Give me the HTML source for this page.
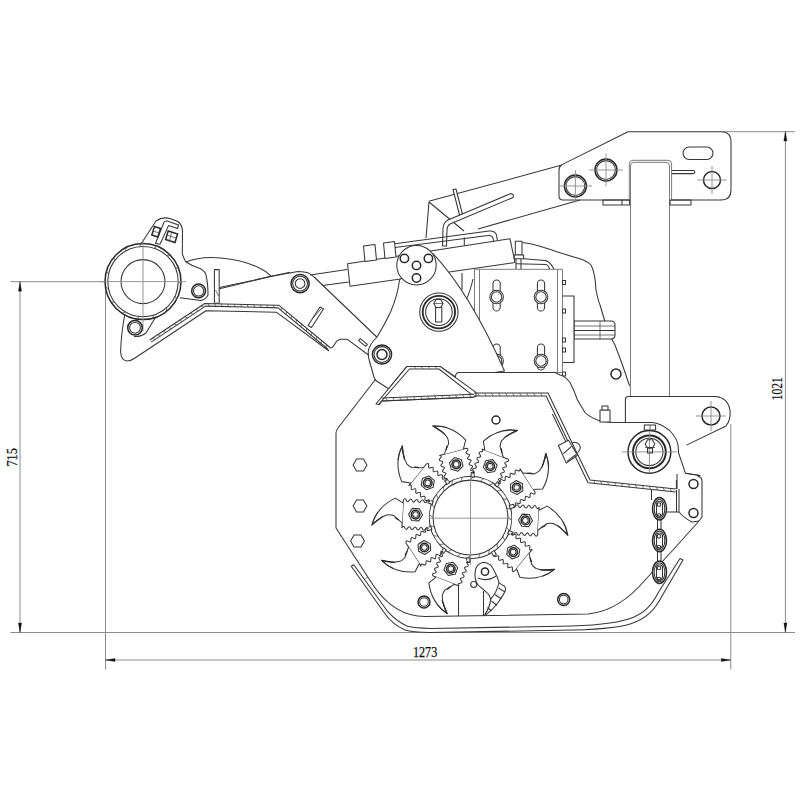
<!DOCTYPE html>
<html><head><meta charset="utf-8"><style>
html,body{margin:0;padding:0;background:#fff;width:800px;height:800px;overflow:hidden}
svg{display:block}
.m{fill:none;stroke:#363636;stroke-width:1.05;stroke-linejoin:round}
.mf{fill:#fff;stroke:#363636;stroke-width:1.05;stroke-linejoin:round}
.ma{fill:none;stroke:#7c7c7c;stroke-width:1}
.maf{fill:#fff;stroke:#7c7c7c;stroke-width:1}
.k{fill:none;stroke:#282828;stroke-width:1.5}
.wf{fill:#fff;stroke:none}
.kf{fill:#fff;stroke:#282828;stroke-width:1.5}
.h{fill:none;stroke:#454545;stroke-width:0.75}
.c{fill:none;stroke:#8a8a8a;stroke-width:0.9}
.d{fill:none;stroke:#8c8c8c;stroke-width:1}
.ar{fill:#111;stroke:#111;stroke-width:0.3}
.t{font-family:"Liberation Serif",serif;font-size:14px;fill:#111;stroke:#111;stroke-width:0.25}
</style></head><body>
<svg width="800" height="800" viewBox="0 0 800 800">
<defs><g id="blk"><path d="M68,-13.8 L68,13.8 Q66.53,16.7 65.06,13.8 Q63.58,10.9 62.11,13.8 Q60.64,16.7 59.17,13.8 Q57.69,10.9 56.22,13.8 Q54.75,16.7 53.28,13.8 Q51.81,10.9 50.33,13.8 Q48.86,16.7 47.39,13.8 Q45.92,10.9 44.44,13.8 Q42.97,16.7 41.5,13.8 L41.5,-13.8 Q42.97,-10.9 44.44,-13.8 Q45.92,-16.7 47.39,-13.8 Q48.86,-10.9 50.33,-13.8 Q51.81,-16.7 53.28,-13.8 Q54.75,-10.9 56.22,-13.8 Q57.69,-16.7 59.17,-13.8 Q60.64,-10.9 62.11,-13.8 Q63.58,-16.7 65.06,-13.8 Q66.53,-10.9 68,-13.8 Z" class="wf"/><path d="M41.5,13.8 Q42.97,16.7 44.44,13.8 Q45.92,10.9 47.39,13.8 Q48.86,16.7 50.33,13.8 Q51.81,10.9 53.28,13.8 Q54.75,16.7 56.22,13.8 Q57.69,10.9 59.17,13.8 Q60.64,16.7 62.11,13.8 Q63.58,10.9 65.06,13.8 Q66.53,16.7 68,13.8 L68,-13.8 Q66.53,-10.9 65.06,-13.8 Q63.58,-16.7 62.11,-13.8 Q60.64,-10.9 59.17,-13.8 Q57.69,-16.7 56.22,-13.8 Q54.75,-10.9 53.28,-13.8 Q51.81,-16.7 50.33,-13.8 Q48.86,-10.9 47.39,-13.8 Q45.92,-16.7 44.44,-13.8 Q42.97,-10.9 41.5,-13.8" class="m"/></g>
<g id="bl"><path d="M68,-9 L77,-2 Q80,-1.2 83,-1.6 Q87,-3 90.3,-5.7 L98,-12.6 C96,-4 90,8 76,15.4 L68,10.8" class="mf"/><path d="M98.2,-12.9 Q93,-7 87.5,-3 M98.2,-12.9 Q96.5,-5 92.8,0.8 M97.5,-11 L89,-4.6" class="k" style="stroke-width:0.8"/><path d="M71.5,-6.2 L75.5,-4" class="k" style="stroke-width:1.2"/></g></defs>
<rect width="800" height="800" fill="#fff"/>
<line x1="10.5" y1="281.7" x2="186" y2="281.7" class="d"/>
<line x1="10.5" y1="632.5" x2="795" y2="632.5" class="d"/>
<line x1="722" y1="131.7" x2="795" y2="131.7" class="d"/>
<line x1="20" y1="281.7" x2="20" y2="632.5" class="d"/>
<polygon points="20,281.7 21.6,291.2 18.4,291.2" class="ar"/>
<polygon points="20,632.5 18.4,623 21.6,623" class="ar"/>
<line x1="785.4" y1="131.7" x2="785.4" y2="632.5" class="d"/>
<polygon points="785.4,131.5 787,141 783.8,141" class="ar"/>
<polygon points="785.4,632.5 783.8,623 787,623" class="ar"/>
<line x1="105.5" y1="284" x2="105.5" y2="669.5" class="d"/>
<line x1="730.8" y1="424" x2="730.8" y2="669.5" class="d"/>
<line x1="105.5" y1="660" x2="730.8" y2="660" class="d"/>
<polygon points="105.5,660 115,658.4 115,661.6" class="ar"/>
<polygon points="730.8,660 721.3,661.6 721.3,658.4" class="ar"/>
<text x="413" y="657" class="t" textLength="24.2" lengthAdjust="spacingAndGlyphs">1273</text>
<text transform="translate(782.3,400.2) rotate(-90)" class="t" textLength="22.9" lengthAdjust="spacingAndGlyphs">1021</text>
<text transform="translate(16.9,466.6) rotate(-90)" class="t" textLength="18.4" lengthAdjust="spacingAndGlyphs">715</text>
<path d="M428.8,201.3 L560,165.6 L628,131.7 L721,131.7 Q731,131.7 731,141.7 L731,190 Q731,200 721,200 L563,200 Q559,200 559,196 L559,170 Q559,166.5 562,164.8" class="mf"/>
<line x1="478" y1="229" x2="580" y2="200" class="m"/>
<circle cx="575.4" cy="186" r="11" class="k"/>
<circle cx="575.4" cy="186" r="9.4" class="m"/>
<circle cx="606" cy="170" r="11" class="k"/>
<circle cx="606" cy="170" r="9.4" class="m"/>
<line x1="558.9" y1="186" x2="591.9" y2="186" class="c"/>
<line x1="575.4" y1="170" x2="575.4" y2="202" class="c"/>
<line x1="589" y1="170" x2="623" y2="170" class="c"/>
<line x1="606" y1="153.5" x2="606" y2="186.5" class="c"/>
<circle cx="712" cy="180" r="8.5" class="k"/>
<line x1="697.5" y1="180" x2="726.5" y2="180" class="c"/>
<line x1="712" y1="166" x2="712" y2="194" class="c"/>
<rect x="683" y="147" width="30" height="12.5" rx="6.2" class="m"/>
<path d="M629.3,200 L629.3,164 Q629.3,160.3 633,160.3 L668,160.3 Q671.6,160.3 671.6,164 L671.6,200" class="maf"/>
<path d="M630.5,397 L630.5,166 Q630.5,162.3 634,162.3 L666,162.3 Q669.5,162.3 669.5,166 L669.5,397" class="maf"/>
<polygon points="603,200 629.6,200 629.6,205 603,205" class="m"/>
<line x1="622" y1="200" x2="622" y2="205" class="m"/>
<polygon points="670,200 691,200 691,205 670,205" class="m"/>
<path d="M671.6,170.5 L693,170.5 Q694.8,170.5 694.8,172 Q694.8,173.6 693,173.6 L671.6,173.6" class="m"/>
<path d="M429,202 L426,238" class="m"/>
<line x1="429" y1="202" x2="464" y2="231" class="m"/>
<line x1="464.3" y1="237.5" x2="464.3" y2="245.4" class="m"/>
<path d="M522.6,242.4 Q532,243.5 540.6,246.4 Q550,249 557.5,252 Q570,256 580,258.75 Q587,261 591,265 Q595,272 596,290 Q598,300 600,305 L607.5,330 Q612,340 615,345 L622.5,365 L629.6,386 L629.6,400 L520,400 Z" class="wf"/>
<path d="M522.6,242.4 Q532,243.5 540.6,246.4 Q550,249 557.5,252 Q570,256 580,258.75 Q587,261 591,265 Q595,272 596,290 Q598,300 600,305 L607.5,330 Q612,340 615,345 L622.5,365 L629.6,386" class="m"/>
<path d="M574,321 L611,321 Q615,321 615,325 L615,335 Q615,339 611,339 L574,339 Z" class="mf"/>
<line x1="574" y1="326" x2="615" y2="326" class="h"/>
<line x1="574" y1="330.5" x2="615" y2="330.5" class="m"/>
<line x1="574" y1="335" x2="615" y2="335" class="h"/>
<line x1="600" y1="321" x2="600" y2="339" class="h"/>
<polygon points="562.5,296 574,296 574,362.5 562.5,362.5" class="mf"/>
<circle cx="616" cy="374" r="5" class="k"/>
<polygon points="474.5,269.3 562.5,269.3 562.5,372.5 474.5,372.5" class="maf"/>
<line x1="479.5" y1="269.3" x2="479.5" y2="372.5" class="ma"/>
<line x1="557.5" y1="269.3" x2="557.5" y2="372.5" class="ma"/>
<polygon points="562.5,280.5 565.5,280.5 565.5,284.5 562.5,284.5" class="m"/>
<polygon points="562.5,309 565.5,309 565.5,313 562.5,313" class="m"/>
<polygon points="562.5,338 565.5,338 565.5,342 562.5,342" class="m"/>
<polygon points="562.5,348 565.5,348 565.5,352 562.5,352" class="m"/>
<polygon points="562.5,372 565.5,372 565.5,376 562.5,376" class="m"/>
<rect x="493" y="280" width="7.2" height="31" rx="3.6" class="m"/>
<rect x="493" y="344" width="7.2" height="26" rx="3.6" class="m"/>
<rect x="537.4" y="280" width="7.2" height="31" rx="3.6" class="m"/>
<rect x="537.4" y="344" width="7.2" height="26" rx="3.6" class="m"/>
<circle cx="496.6" cy="297" r="6.8" class="mf"/>
<circle cx="496.6" cy="297" r="5.2" class="m"/>
<circle cx="541" cy="297" r="6.8" class="mf"/>
<circle cx="541" cy="297" r="5.2" class="m"/>
<circle cx="541" cy="361" r="6.8" class="mf"/>
<circle cx="541" cy="361" r="5.2" class="m"/>
<circle cx="496.6" cy="361" r="6.8" class="mf"/>
<circle cx="496.6" cy="361" r="5.2" class="m"/>
<line x1="462" y1="273" x2="462" y2="290" class="m"/>
<path d="M473,279 Q470,292 466,300" class="m"/>
<polygon points="453,189.5 456,189 462.5,214.5 459.5,215" class="mf"/>
<path d="M511,193.5 Q514.5,194.5 513,197.5 L450,224 Q447,226 447,230 L446.5,246 L442.5,246 L443,228 Q443.5,222.5 448,220 Z" class="mf"/>
<path d="M395,243.8 L489,231 Q495,230.5 496.5,235 L497.5,241" class="m"/>
<path d="M395,247.6 L488,235.5 Q492,235 493,238 L493.5,241" class="m"/>
<polygon points="347.5,263.8 510,238.8 515,262.5 350,286.3" class="mf"/>
<line x1="310" y1="274.9" x2="347.3" y2="269.6" class="m"/>
<line x1="322.5" y1="285.4" x2="348.7" y2="281.9" class="m"/>
<polygon points="363.5,246 375,244.5 376.5,260 365,261.5" class="mf"/>
<polygon points="383.5,243 394.5,241.5 396,257 385,258.5" class="mf"/>
<polygon points="515.3,241.3 522,241.3 522,255 515.3,255" class="mf"/>
<polygon points="514.2,255 523.7,255 523.7,258.8 514.2,258.8" class="mf"/>
<line x1="516" y1="258.8" x2="516" y2="269" class="m"/>
<line x1="521" y1="258.8" x2="521" y2="269" class="m"/>
<path d="M523.7,258.8 L545,260.4 Q549,261 551,264.4 L554,269" class="m"/>
<path d="M516,263.8 L546.2,264.4 Q548.5,265.5 549.6,269" class="m"/>
<path d="M399.5,279.8 Q398,294 391,311 Q386,322 377,337 Q370,344 368.5,350 Q367.5,356 370,363 L374,377 Q375,380 377,382 L386,389 L504.5,371 Q470,293 433,253.5 Z" class="mf"/>
<circle cx="416.5" cy="265.3" r="19.7" class="mf"/>
<circle cx="404.4" cy="258.4" r="4.2" class="k"/>
<circle cx="428.4" cy="258.4" r="4.2" class="k"/>
<circle cx="416.5" cy="265.4" r="4.2" class="k"/>
<circle cx="416.5" cy="278" r="4.2" class="k"/>
<circle cx="438.9" cy="312.1" r="19.2" class="m"/>
<circle cx="438.9" cy="312.1" r="16.2" class="k" style="stroke-width:1.8"/>
<circle cx="438.9" cy="312.1" r="13.3" class="m"/>
<polygon points="435.6,307 441.8,307 441.8,322 435.6,322" class="m"/>
<polygon points="443,303.5 440.7,307.48 436.1,307.48 433.8,303.5 436.1,299.52 440.7,299.52" class="mf"/>
<line x1="433.8" y1="303.5" x2="443" y2="303.5" class="h"/>
<path d="M218.5,289 L270,276.6 L298,271.4 Q305,271.5 308.5,273.1 Q312,275 314.6,277.5 L376.75,337" class="m"/>
<circle cx="300.1" cy="283.6" r="9.1" class="k"/>
<circle cx="300.1" cy="283.6" r="7.4" class="m"/>
<circle cx="300.1" cy="283.6" r="4.8" class="m"/>
<polyline points="149.7,340 204.75,303.5 279,305.3 330,347.5" class="m"/>
<polyline points="151.14,342.17 205.5,306.12 278.04,307.88 328.34,349.5" class="m"/>
<line x1="152.41" y1="338.2" x2="155.15" y2="339.51" class="h"/>
<line x1="157.83" y1="334.61" x2="160.56" y2="335.92" class="h"/>
<line x1="163.24" y1="331.02" x2="165.98" y2="332.33" class="h"/>
<line x1="168.66" y1="327.43" x2="171.4" y2="328.73" class="h"/>
<line x1="174.08" y1="323.84" x2="176.82" y2="325.14" class="h"/>
<line x1="179.5" y1="320.24" x2="182.23" y2="321.55" class="h"/>
<line x1="184.91" y1="316.65" x2="187.65" y2="317.96" class="h"/>
<line x1="190.33" y1="313.06" x2="193.07" y2="314.37" class="h"/>
<line x1="195.75" y1="309.47" x2="198.48" y2="310.77" class="h"/>
<line x1="201.17" y1="305.88" x2="203.9" y2="307.18" class="h"/>
<line x1="208" y1="303.58" x2="209.5" y2="306.22" class="h"/>
<line x1="214.5" y1="303.74" x2="215.99" y2="306.37" class="h"/>
<line x1="221" y1="303.89" x2="222.49" y2="306.53" class="h"/>
<line x1="227.49" y1="304.05" x2="228.99" y2="306.69" class="h"/>
<line x1="233.99" y1="304.21" x2="235.49" y2="306.85" class="h"/>
<line x1="240.49" y1="304.37" x2="241.99" y2="307" class="h"/>
<line x1="246.99" y1="304.52" x2="248.48" y2="307.16" class="h"/>
<line x1="253.49" y1="304.68" x2="254.98" y2="307.32" class="h"/>
<line x1="259.98" y1="304.84" x2="261.48" y2="307.48" class="h"/>
<line x1="266.48" y1="305" x2="267.98" y2="307.63" class="h"/>
<line x1="272.98" y1="305.15" x2="274.48" y2="307.79" class="h"/>
<line x1="281.5" y1="307.37" x2="281.05" y2="310.37" class="h"/>
<line x1="286.51" y1="311.52" x2="286.06" y2="314.51" class="h"/>
<line x1="291.52" y1="315.66" x2="291.06" y2="318.66" class="h"/>
<line x1="296.53" y1="319.8" x2="296.07" y2="322.8" class="h"/>
<line x1="301.54" y1="323.95" x2="301.08" y2="326.94" class="h"/>
<line x1="306.54" y1="328.09" x2="306.09" y2="331.09" class="h"/>
<line x1="311.55" y1="332.23" x2="311.1" y2="335.23" class="h"/>
<line x1="316.56" y1="336.38" x2="316.1" y2="339.38" class="h"/>
<line x1="321.57" y1="340.52" x2="321.11" y2="343.52" class="h"/>
<line x1="326.58" y1="344.67" x2="326.12" y2="347.66" class="h"/>
<path d="M330,347.5 Q332,349 334.75,344 Q337,339.5 341,339.2 L347,339.2 L368.5,355" class="m"/>
<path d="M320,307 L323.5,309 L311.5,327.5 L308,325.5 Z" class="m"/>
<line x1="321" y1="309" x2="313" y2="318" class="h"/>
<polygon points="358.6,340.7 360.3,338.7 367.4,344.3 365.7,346.3" class="m"/>
<circle cx="382" cy="354.5" r="9.6" class="kf"/>
<circle cx="382" cy="354.5" r="7.9" class="m"/>
<circle cx="382" cy="354.5" r="5" class="k"/>
<path d="M141,244 L156,221 Q162,216.5 170,218.5 L178,221.5 Q182.5,225 182.5,232 L182.3,254 Q184,259 186,262 Q192,266 200,268.5 Q205,271 206,275 Q208,283 208,295 Q206,299.5 200.6,300.5 L180,297.8" class="mf"/>
<path d="M186,262 Q200,256 221,257.9 Q243,260 258.4,267.5 Q266,271 270.8,275.8" class="m"/>
<line x1="217.1" y1="288.1" x2="290" y2="272.3" class="m"/>
<path d="M125,313 Q121,335 120.6,352 Q121,360 127,361 Q131,361 135,358 L206,310.8 L276.3,312.2 L329,351" class="m"/>
<path d="M156,316.5 L146,333 Q141,337 134,336.5" class="m"/>
<circle cx="143" cy="281.6" r="38" class="kf"/>
<circle cx="143" cy="281.6" r="35.2" class="m"/>
<circle cx="143" cy="281.6" r="22" class="m"/>
<line x1="178.2" y1="281.6" x2="180.91" y2="284.25" class="h"/>
<line x1="175.16" y1="295.92" x2="176.55" y2="299.44" class="h"/>
<line x1="166.55" y1="307.76" x2="166.4" y2="311.54" class="h"/>
<line x1="153.88" y1="315.08" x2="152.19" y2="318.47" class="h"/>
<line x1="139.32" y1="316.61" x2="136.4" y2="319.02" class="h"/>
<line x1="125.4" y1="312.08" x2="121.75" y2="313.1" class="h"/>
<line x1="114.52" y1="302.29" x2="110.77" y2="301.74" class="h"/>
<line x1="108.57" y1="288.92" x2="105.37" y2="286.89" class="h"/>
<line x1="108.57" y1="274.28" x2="106.47" y2="271.13" class="h"/>
<line x1="114.52" y1="260.91" x2="113.89" y2="257.17" class="h"/>
<line x1="125.4" y1="251.12" x2="126.34" y2="247.45" class="h"/>
<line x1="139.32" y1="246.59" x2="141.67" y2="243.62" class="h"/>
<line x1="153.88" y1="248.12" x2="157.24" y2="246.37" class="h"/>
<line x1="166.55" y1="255.44" x2="170.33" y2="255.2" class="h"/>
<line x1="175.16" y1="267.28" x2="178.71" y2="268.6" class="h"/>
<line x1="100" y1="281.6" x2="186" y2="281.6" class="c"/>
<line x1="143" y1="239" x2="143" y2="331" class="c"/>
<circle cx="198.6" cy="290.9" r="6.9" class="k"/>
<circle cx="198.6" cy="290.9" r="5.1" class="m"/>
<circle cx="135" cy="327.8" r="7.3" class="k"/>
<circle cx="135" cy="327.8" r="5.4" class="m"/>
<path d="M155.5,243.5 L164,222.2 Q165,220.6 167,221 L178.5,225 L177.5,228.5 L168.5,225.6 L160,244.2 Z" class="mf"/>
<polygon points="154.5,226.5 160.5,228.5 157.8,237 151.8,235" class="kf"/>
<line x1="153" y1="231" x2="159.3" y2="233" class="h"/>
<polygon points="168.2,231 177.6,234 175,242.5 165.6,239.5" class="kf"/>
<line x1="167" y1="235" x2="176.3" y2="238" class="h"/>
<line x1="171.5" y1="232.5" x2="169.5" y2="241" class="h"/>
<polygon points="214.4,269.6 219.2,269.6 219.2,303.3 214.4,303.3" class="mf"/>
<line x1="215.5" y1="290" x2="218.5" y2="296" class="h"/>
<path d="M625.4,430 L625.4,399.4 Q625.4,396.5 628.4,396.5 L716,396.5 Q728,398 730,410 Q731,420 726,426 L686.5,445.1 L678,445.1 L678,430 Z" class="wf"/>
<path d="M625.4,430 L625.4,399.4 Q625.4,396.5 628.4,396.5 L716,396.5 Q728,398 730,410 Q731,420 726,426 L686.5,445.1" class="m"/>
<circle cx="711" cy="416" r="9" class="k"/>
<line x1="696" y1="416" x2="726" y2="416" class="c"/>
<line x1="711" y1="401" x2="711" y2="431" class="c"/>
<path d="M375,380 L338,428 Q336,430.5 336,433 L336,528 L373,585 Q394.2,616.5 425,616.5 L588,614 C612,612 630,598 646,579 L673,550 L699,521 L702,517 L702,481 Q702,477 698,476.5 L700,475.5 L685.4,473.2 L678.6,453 L678,445.1 Q677,438 669.6,430.5 Q662,424 652.75,422.4 L615,422.5 Q604,422 597.5,420 Q588,416 585,412.5 L577.5,400 Q574,390 570,382.5 Q565,376 560,375 L555,372.5 L459,372.5 Q455.5,372.5 455.5,377 L440,366.4 L407,366.4 L388.6,388.8 Z" class="mf"/>
<path d="M376,404 L407,366.4 L440,366.4 L476,392.4 L476,396.5 L474,397 L382,401 L379.5,404.5 Z" class="mf"/>
<path d="M379,404 L409.5,369 L439,369 L471.5,394.3" class="m"/>
<line x1="414" y1="366.6" x2="416" y2="368.8" class="h"/>
<line x1="421" y1="366.6" x2="423" y2="368.8" class="h"/>
<line x1="428" y1="366.6" x2="430" y2="368.8" class="h"/>
<line x1="435" y1="366.6" x2="437" y2="368.8" class="h"/>
<polyline points="382,398 474,394.3" class="m"/>
<polyline points="382.12,401 474.12,397.3" class="m"/>
<line x1="385.5" y1="397.86" x2="387.42" y2="400.78" class="h"/>
<line x1="392.49" y1="397.58" x2="394.41" y2="400.5" class="h"/>
<line x1="399.49" y1="397.3" x2="401.4" y2="400.22" class="h"/>
<line x1="406.48" y1="397.02" x2="408.4" y2="399.94" class="h"/>
<line x1="413.47" y1="396.73" x2="415.39" y2="399.66" class="h"/>
<line x1="420.47" y1="396.45" x2="422.39" y2="399.38" class="h"/>
<line x1="427.46" y1="396.17" x2="429.38" y2="399.1" class="h"/>
<line x1="434.46" y1="395.89" x2="436.38" y2="398.82" class="h"/>
<line x1="441.45" y1="395.61" x2="443.37" y2="398.53" class="h"/>
<line x1="448.45" y1="395.33" x2="450.37" y2="398.25" class="h"/>
<line x1="455.44" y1="395.05" x2="457.36" y2="397.97" class="h"/>
<line x1="462.43" y1="394.77" x2="464.35" y2="397.69" class="h"/>
<line x1="469.43" y1="394.48" x2="471.35" y2="397.41" class="h"/>
<polyline points="474,393 548,393 590,480 676,489" class="m"/>
<polyline points="474,396 546.12,396 588.03,482.81 675.69,491.98" class="m"/>
<line x1="477.5" y1="393" x2="479.3" y2="396" class="h"/>
<line x1="484.5" y1="393" x2="486.3" y2="396" class="h"/>
<line x1="491.5" y1="393" x2="493.3" y2="396" class="h"/>
<line x1="498.5" y1="393" x2="500.3" y2="396" class="h"/>
<line x1="505.5" y1="393" x2="507.3" y2="396" class="h"/>
<line x1="512.5" y1="393" x2="514.3" y2="396" class="h"/>
<line x1="519.5" y1="393" x2="521.3" y2="396" class="h"/>
<line x1="526.5" y1="393" x2="528.3" y2="396" class="h"/>
<line x1="533.5" y1="393" x2="535.3" y2="396" class="h"/>
<line x1="540.5" y1="393" x2="542.3" y2="396" class="h"/>
<line x1="593.48" y1="480.36" x2="594.96" y2="483.54" class="h"/>
<line x1="600.44" y1="481.09" x2="601.92" y2="484.26" class="h"/>
<line x1="607.4" y1="481.82" x2="608.88" y2="484.99" class="h"/>
<line x1="614.37" y1="482.55" x2="615.84" y2="485.72" class="h"/>
<line x1="621.33" y1="483.28" x2="622.81" y2="486.45" class="h"/>
<line x1="628.29" y1="484.01" x2="629.77" y2="487.18" class="h"/>
<line x1="635.25" y1="484.74" x2="636.73" y2="487.91" class="h"/>
<line x1="642.21" y1="485.46" x2="643.69" y2="488.64" class="h"/>
<line x1="649.18" y1="486.19" x2="650.65" y2="489.36" class="h"/>
<line x1="656.14" y1="486.92" x2="657.62" y2="490.09" class="h"/>
<line x1="663.1" y1="487.65" x2="664.58" y2="490.82" class="h"/>
<line x1="670.06" y1="488.38" x2="671.54" y2="491.55" class="h"/>
<line x1="552.4" y1="414" x2="572.7" y2="456" class="m"/>
<polygon points="600,410 610,410 610,422 600,422" class="mf"/>
<polygon points="602,406 608,406 608,410 602,410" class="mf"/>
<circle cx="649.4" cy="451.9" r="21.4" class="kf"/>
<circle cx="649.4" cy="451.9" r="16.4" class="k" style="stroke-width:2"/>
<circle cx="649.4" cy="451.9" r="13.6" class="m"/>
<line x1="621.9" y1="451.9" x2="676.9" y2="451.9" class="c"/>
<line x1="649.4" y1="430.4" x2="649.4" y2="473.4" class="c"/>
<polygon points="654.8,444 652.4,448.16 647.6,448.16 645.2,444 647.6,439.84 652.4,439.84" class="m"/>
<line x1="645" y1="447.5" x2="655" y2="447.5" class="h"/>
<polygon points="647.5,447.5 652.5,447.5 652.5,453 647.5,453" class="m"/>
<polygon points="644.3,425 655.6,425 655.6,430 644.3,430" class="mf"/>
<line x1="650" y1="425" x2="650" y2="430" class="h"/>
<circle cx="693.5" cy="484" r="4.5" class="k"/>
<circle cx="693.5" cy="513" r="4.5" class="k"/>
<line x1="677" y1="474" x2="677" y2="489" class="m"/>
<line x1="676.4" y1="480" x2="676.4" y2="489" class="m"/>
<path d="M679,489 L679,512 Q684,518 692,522 L699,521" class="m"/>
<line x1="676.5" y1="490" x2="676.5" y2="512" class="m"/>
<path d="M651.5,489.5 L651.5,500" class="m"/>
<line x1="667" y1="512" x2="679" y2="512" class="m"/>
<line x1="685.4" y1="473.2" x2="700" y2="475.5" class="m"/>
<polygon points="366.9,465 363.45,470.98 356.55,470.98 353.1,465 356.55,459.02 363.45,459.02" class="m"/>
<polygon points="366.9,506 363.45,511.98 356.55,511.98 353.1,506 356.55,500.02 363.45,500.02" class="m"/>
<polygon points="364.4,541 360.95,546.98 354.05,546.98 350.6,541 354.05,535.02 360.95,535.02" class="m"/>
<circle cx="424" cy="602" r="6" class="k"/>
<circle cx="424" cy="602" r="4.3" class="m"/>
<circle cx="496" cy="420" r="4" class="k"/>
<circle cx="563.7" cy="599.6" r="6" class="k"/>
<circle cx="563.7" cy="599.6" r="4.3" class="m"/>
<path d="M572,443 A5.2,5.2 0 0 1 577.5,452.5" class="m"/>
<polygon points="558.4,445.5 568.5,440.3 577.5,455.3 566.3,463.1" class="mf"/>
<line x1="563.2" y1="453.8" x2="571.5" y2="446.3" class="m"/>
<line x1="567" y1="461.3" x2="576" y2="454.5" class="m"/>
<line x1="458.5" y1="586" x2="458.5" y2="616" class="m"/>
<line x1="483.5" y1="591" x2="483.5" y2="616" class="m"/>
<ellipse cx="659.5" cy="508.75" rx="7" ry="11.25" class="kf"/>
<ellipse cx="659.5" cy="508.75" rx="5.3" ry="9.5" class="m"/>
<rect x="656.5" y="501.25" width="6" height="15" rx="3" class="m"/>
<circle cx="659" cy="504.55" r="1.8" class="m"/>
<circle cx="659" cy="515.55" r="1.8" class="m"/>
<ellipse cx="659.5" cy="540.5" rx="7" ry="11.25" class="kf"/>
<ellipse cx="659.5" cy="540.5" rx="5.3" ry="9.5" class="m"/>
<rect x="656.5" y="533.0" width="6" height="15" rx="3" class="m"/>
<circle cx="659" cy="536.3" r="1.8" class="m"/>
<circle cx="659" cy="547.3" r="1.8" class="m"/>
<ellipse cx="659.5" cy="572.2" rx="7" ry="11.25" class="kf"/>
<ellipse cx="659.5" cy="572.2" rx="5.3" ry="9.5" class="m"/>
<rect x="656.5" y="564.7" width="6" height="15" rx="3" class="m"/>
<circle cx="659" cy="568" r="1.8" class="m"/>
<circle cx="659" cy="579" r="1.8" class="m"/>
<line x1="657.5" y1="520" x2="657.5" y2="529.5" class="m"/>
<line x1="661" y1="520" x2="661" y2="529.5" class="m"/>
<line x1="657.5" y1="551.7" x2="657.5" y2="561" class="m"/>
<line x1="661" y1="551.7" x2="661" y2="561" class="m"/>
<path d="M351.2,566.3 L385,613.8 Q393,625 405,630 Q412,632.3 430,632.5 L560,630.3 C628,629.5 647,625 662,596 L683,560 L680,558.5 L658,593 C645,619 625,625.5 560,626.3 L430,628.5 Q415,628 407.5,626.3 Q397,621.5 387.5,611.3 L353.8,564.8 Z" class="mf"/>
<line x1="365.5" y1="578.5" x2="368" y2="577" class="h"/>
<circle cx="470.5" cy="517.5" r="41.3" class="mf"/>
<circle cx="470.5" cy="517.5" r="37.4" class="m"/>
<line x1="507.9" y1="517.5" x2="511.7" y2="520.38" class="h"/>
<line x1="506.63" y1="527.18" x2="509.55" y2="530.95" class="h"/>
<line x1="502.89" y1="536.2" x2="504.74" y2="540.59" class="h"/>
<line x1="496.95" y1="543.95" x2="497.6" y2="548.67" class="h"/>
<line x1="489.2" y1="549.89" x2="488.6" y2="554.62" class="h"/>
<line x1="480.18" y1="553.63" x2="478.38" y2="558.04" class="h"/>
<line x1="470.5" y1="554.9" x2="467.62" y2="558.7" class="h"/>
<line x1="460.82" y1="553.63" x2="457.05" y2="556.55" class="h"/>
<line x1="451.8" y1="549.89" x2="447.41" y2="551.74" class="h"/>
<line x1="444.05" y1="543.95" x2="439.33" y2="544.6" class="h"/>
<line x1="438.11" y1="536.2" x2="433.38" y2="535.6" class="h"/>
<line x1="434.37" y1="527.18" x2="429.96" y2="525.38" class="h"/>
<line x1="433.1" y1="517.5" x2="429.3" y2="514.62" class="h"/>
<line x1="434.37" y1="507.82" x2="431.45" y2="504.05" class="h"/>
<line x1="438.11" y1="498.8" x2="436.26" y2="494.41" class="h"/>
<line x1="444.05" y1="491.05" x2="443.4" y2="486.33" class="h"/>
<line x1="451.8" y1="485.11" x2="452.4" y2="480.38" class="h"/>
<line x1="460.82" y1="481.37" x2="462.62" y2="476.96" class="h"/>
<line x1="470.5" y1="480.1" x2="473.38" y2="476.3" class="h"/>
<line x1="480.18" y1="481.37" x2="483.95" y2="478.45" class="h"/>
<line x1="489.2" y1="485.11" x2="493.59" y2="483.26" class="h"/>
<line x1="496.95" y1="491.05" x2="501.67" y2="490.4" class="h"/>
<line x1="502.89" y1="498.8" x2="507.62" y2="499.4" class="h"/>
<line x1="506.63" y1="507.82" x2="511.04" y2="509.62" class="h"/>
<line x1="422.5" y1="518.2" x2="519" y2="518.2" class="c"/>
<line x1="470.5" y1="477.5" x2="470.5" y2="565" class="c"/>
<g transform="translate(470.5,517.5) rotate(3)">
<use href="#blk"/>
<use href="#bl" transform="scale(1,-1)"/>
<g transform="rotate(18)"><rect x="40.5" y="-1.6" width="4.5" height="3.2" class="mf"/></g>
</g>
<polygon points="532.42,520.74 528.6,526.62 521.61,526.25 518.43,520.01 522.25,514.14 529.24,514.51" class="mf"/>
<circle cx="525.42" cy="520.38" r="4.3" class="k"/>
<circle cx="525.42" cy="520.38" r="2.8" class="m"/>
<g transform="translate(470.5,517.5) rotate(39)">
<use href="#blk"/>
<use href="#bl"/>
<g transform="rotate(18)"><rect x="40.5" y="-1.6" width="4.5" height="3.2" class="mf"/></g>
</g>
<polygon points="518.68,556.52 512.15,559.03 506.71,554.62 507.8,547.71 514.34,545.2 519.78,549.6" class="mf"/>
<circle cx="513.24" cy="552.11" r="4.3" class="k"/>
<circle cx="513.24" cy="552.11" r="2.8" class="m"/>
<g transform="translate(470.5,517.5) rotate(75)">
<g transform="rotate(18)"><rect x="40.5" y="-1.6" width="4.5" height="3.2" class="mf"/></g>
</g>
<g transform="translate(470.5,517.5) rotate(111)">
<use href="#blk"/>
<use href="#bl"/>
<g transform="rotate(18)"><rect x="40.5" y="-1.6" width="4.5" height="3.2" class="mf"/></g>
</g>
<polygon points="448.28,575.38 443.88,569.94 446.38,563.41 453.3,562.31 457.7,567.75 455.2,574.29" class="mf"/>
<circle cx="450.79" cy="568.85" r="4.3" class="k"/>
<circle cx="450.79" cy="568.85" r="2.8" class="m"/>
<g transform="translate(470.5,517.5) rotate(147)">
<use href="#blk"/>
<use href="#bl" transform="scale(1,-1)"/>
<g transform="rotate(18)"><rect x="40.5" y="-1.6" width="4.5" height="3.2" class="mf"/></g>
</g>
<polygon points="418.5,551.27 418.14,544.28 424.01,540.46 430.24,543.64 430.61,550.63 424.74,554.45" class="mf"/>
<circle cx="424.37" cy="547.46" r="4.3" class="k"/>
<circle cx="424.37" cy="547.46" r="2.8" class="m"/>
<g transform="translate(470.5,517.5) rotate(183)">
<use href="#blk"/>
<use href="#bl"/>
<g transform="rotate(18)"><rect x="40.5" y="-1.6" width="4.5" height="3.2" class="mf"/></g>
</g>
<polygon points="408.58,514.26 412.4,508.38 419.39,508.75 422.57,514.99 418.75,520.86 411.76,520.49" class="mf"/>
<circle cx="415.58" cy="514.62" r="4.3" class="k"/>
<circle cx="415.58" cy="514.62" r="2.8" class="m"/>
<g transform="translate(470.5,517.5) rotate(219)">
<use href="#blk"/>
<use href="#bl" transform="scale(1,-1)"/>
<g transform="rotate(18)"><rect x="40.5" y="-1.6" width="4.5" height="3.2" class="mf"/></g>
</g>
<polygon points="422.32,478.48 428.85,475.97 434.29,480.38 433.2,487.29 426.66,489.8 421.22,485.4" class="mf"/>
<circle cx="427.76" cy="482.89" r="4.3" class="k"/>
<circle cx="427.76" cy="482.89" r="2.8" class="m"/>
<g transform="translate(470.5,517.5) rotate(255)">
<use href="#blk"/>
<use href="#bl"/>
<g transform="rotate(18)"><rect x="40.5" y="-1.6" width="4.5" height="3.2" class="mf"/></g>
</g>
<polygon points="454.45,457.61 461.21,459.42 463.03,466.19 458.08,471.14 451.32,469.32 449.5,462.56" class="mf"/>
<circle cx="456.26" cy="464.37" r="4.3" class="k"/>
<circle cx="456.26" cy="464.37" r="2.8" class="m"/>
<g transform="translate(470.5,517.5) rotate(291)">
<use href="#blk"/>
<use href="#bl" transform="scale(1,-1)"/>
<g transform="rotate(18)"><rect x="40.5" y="-1.6" width="4.5" height="3.2" class="mf"/></g>
</g>
<polygon points="492.72,459.62 497.12,465.06 494.62,471.59 487.7,472.69 483.3,467.25 485.8,460.71" class="mf"/>
<circle cx="490.21" cy="466.15" r="4.3" class="k"/>
<circle cx="490.21" cy="466.15" r="2.8" class="m"/>
<g transform="translate(470.5,517.5) rotate(327)">
<use href="#blk"/>
<use href="#bl"/>
<g transform="rotate(18)"><rect x="40.5" y="-1.6" width="4.5" height="3.2" class="mf"/></g>
</g>
<polygon points="522.5,483.73 522.86,490.72 516.99,494.54 510.76,491.36 510.39,484.37 516.26,480.55" class="mf"/>
<circle cx="516.63" cy="487.54" r="4.3" class="k"/>
<circle cx="516.63" cy="487.54" r="2.8" class="m"/>
<path d="M483.1,562.3 Q477,564 475.6,569.4 Q474.5,574 475.2,577.8 Q476,583 478.4,585.3 Q483,589 486,591.9 Q490,595 490.6,599.4 Q490,608 484,615.8 Q492,611 499,601.2 Q504,594 505.6,590 Q505.5,587.5 504.7,586.2 Q500,584 499,582.5 Q497,576 495.3,573.1 Q492,566 490.6,565.2 Q487,562.5 483.1,562.3 Z" class="mf"/>
<circle cx="485" cy="571.7" r="3.6" class="k"/>
<path d="M478,578 Q488,582 496,576" class="m"/>
<path d="M499,582.5 Q497,592 490.6,599.4" class="m"/>
<line x1="505" y1="592" x2="498.5" y2="588" class="m"/>
<line x1="501.5" y1="599" x2="495" y2="594.5" class="m"/>
<line x1="497" y1="605.5" x2="491.5" y2="601" class="m"/>
<line x1="491.5" y1="611" x2="487.5" y2="607.5" class="m"/>
<circle cx="473.7" cy="584.4" r="3" class="m"/>
</svg></body></html>
